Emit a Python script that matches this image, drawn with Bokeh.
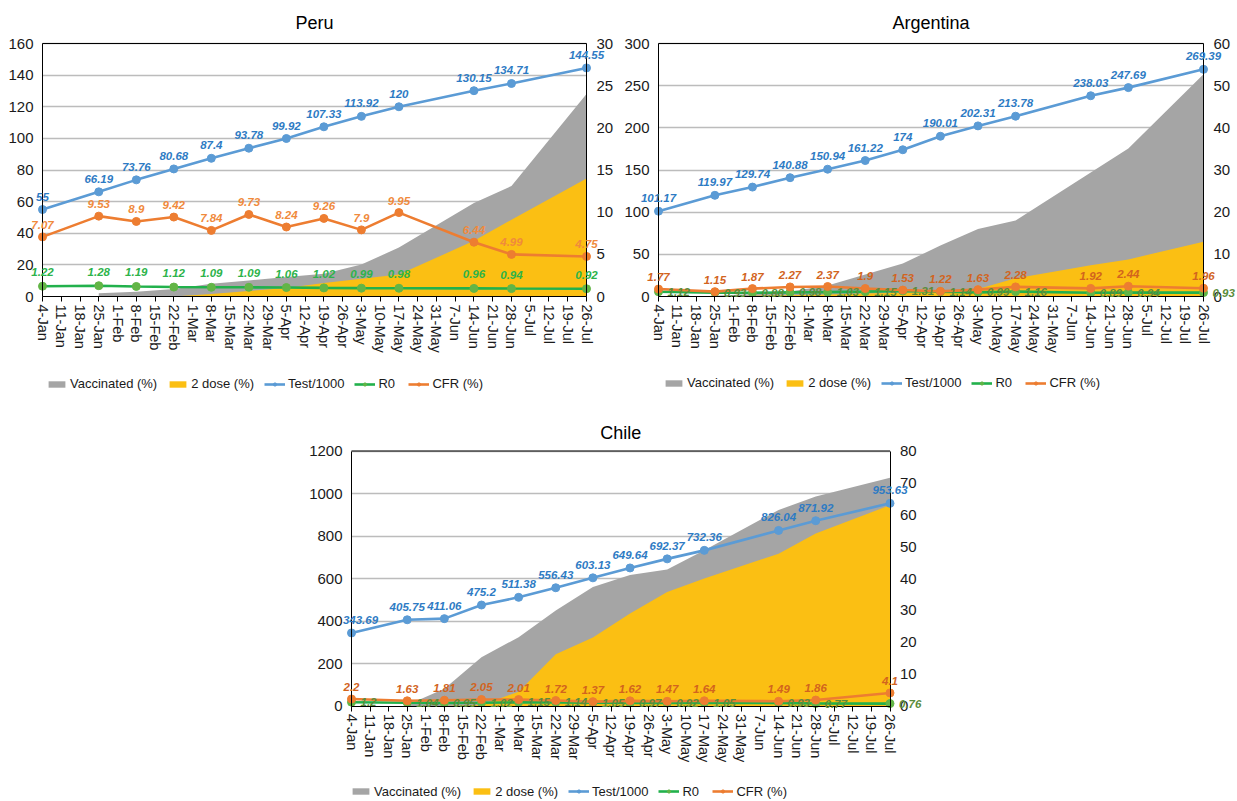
from bokeh.plotting import figure
from bokeh.models import (ColumnDataSource, Range1d, LinearAxis, FixedTicker, LabelSet, Label,
                          Legend, LegendItem, Spacer, Grid)
from bokeh.layouts import row, column
from bokeh.core.properties import value
from bokeh.embed import file_html
from bokeh.resources import INLINE

# ---------------- data ----------------
categories = ["4-Jan", "11-Jan", "18-Jan", "25-Jan", "1-Feb", "8-Feb", "15-Feb", "22-Feb",
              "1-Mar", "8-Mar", "15-Mar", "22-Mar", "29-Mar", "5-Apr", "12-Apr", "19-Apr",
              "26-Apr", "3-May", "10-May", "17-May", "24-May", "31-May", "7-Jun", "14-Jun",
              "21-Jun", "28-Jun", "5-Jul", "12-Jul", "19-Jul", "26-Jul"]
dates = ["4-Jan", "25-Jan", "8-Feb", "22-Feb", "8-Mar", "22-Mar", "5-Apr", "19-Apr",
         "3-May", "17-May", "14-Jun", "28-Jun", "26-Jul"]

peru_test = [55, 66.19, 73.76, 80.68, 87.4, 93.78, 99.92, 107.33, 113.92, 120, 130.15, 134.71, 144.55]
peru_cfr = [7.07, 9.53, 8.9, 9.42, 7.84, 9.73, 8.24, 9.26, 7.9, 9.95, 6.44, 4.99, 4.75]
peru_r0 = [1.22, 1.28, 1.19, 1.12, 1.09, 1.09, 1.06, 1.02, 0.99, 0.98, 0.96, 0.94, 0.92]
peru_vacc = [None, 0.4, 0.55, 0.9, 1.5, 1.9, 2.3, 2.7, 3.8, 5.8, 11.1, 13.1, 24.0]
peru_dose2 = [None, None, None, 0.0, 0.3, 0.65, 1.0, 1.6, 2.1, 2.6, 6.6, 9.1, 14.0]

arg_test = [101.17, 119.97, 129.74, 140.88, 150.94, 161.22, 174, 190.01, 202.31, 213.78, 238.03, 247.69, 269.39]
arg_cfr = [1.77, 1.15, 1.87, 2.27, 2.37, 1.9, 1.53, 1.22, 1.63, 2.28, 1.92, 2.44, 1.96]
arg_r0 = [1.12, 0.93, 0.88, 0.98, 1.03, 1.15, 1.31, 1.14, 0.99, 1.16, 0.89, 0.94, 0.93]
arg_vacc = [None, 0.2, 0.6, 1.2, 2.6, 5.2, 7.8, 12.1, 16.0, 18.0, 29.4, 35.1, 52.7]
arg_dose2 = [None, 0.0, 0.2, 0.3, 0.5, 0.7, 0.9, 1.2, 1.8, 4.3, 7.4, 8.8, 13.0]

chile_test = [343.69, 405.75, 411.06, 475.2, 511.38, 556.43, 603.13, 649.64, 692.37, 732.36, 826.04, 871.92, 953.63]
chile_cfr = [2.2, 1.63, 1.81, 2.05, 2.01, 1.72, 1.37, 1.62, 1.47, 1.64, 1.49, 1.86, 4.1]
chile_r0 = [1.2, 1.04, 0.95, 1.02, 1.15, 1.14, 1.05, 0.97, 0.92, 1.05, 0.93, 0.77, 0.76]
chile_vacc = [None, 0.3, 5.4, 15.3, 21.6, 30.0, 37.3, 41.1, 42.8, 48.9, 61.5, 65.7, 71.6]
chile_dose2 = [None, 0.0, 0.0, 0.3, 4.5, 16.2, 21.5, 29.0, 35.8, 40.0, 47.8, 54.1, 63.0]

FONT = "Liberation Sans"
GRAY = "#a5a5a5"
GOLD = "#fbbf13"
BLUE = "#5b9bd5"
BLUE_T = "#2e7bc4"
ORANGE = "#ed7d31"
GREEN = "#22b14c"
GREEN_M = "#62b546"
TXT = "#1a1a1a"


def fmt(v):
    return "%g" % v


def style_axis(ax, size):
    ax.major_tick_out = 0
    ax.major_tick_in = 0
    ax.minor_tick_out = 0
    ax.minor_tick_in = 0
    ax.major_label_text_font = FONT
    ax.major_label_text_font_size = size
    ax.major_label_text_color = TXT
    ax.axis_line_color = "black"
    ax.axis_line_width = 1


def make_chart(title, test, cfr, r0, vacc, dose2, lmax, lstep, rmax, rstep,
               W, H, L, R, T, B, title_off, leg_xy, r0_side, cfr_lab_color, r0_lab_color,
               first_test_dx=0):
    # box geometry (pixels inside the canvas) -> ranges, so the whole canvas is the frame
    n = len(categories) - 1
    px_x = (R - L) / n
    px_l = (B - T) / lmax
    px_r = (B - T) / rmax
    xr = Range1d(-L / px_x, n + (W - R) / px_x)
    yr = Range1d(-(H - B) / px_l, lmax + T / px_l)
    rr = Range1d(-(H - B) / px_r, rmax + T / px_r)

    p = figure(width=W, height=H, output_backend="svg", toolbar_location=None,
               x_range=xr, y_range=yr, x_axis_location=None, y_axis_location=None,
               min_border=0, min_border_left=0, min_border_right=0,
               min_border_top=0, min_border_bottom=0)
    p.extra_y_ranges = {"right": rr}
    p.center = []
    p.background_fill_color = "white"
    p.border_fill_color = "white"
    p.outline_line_color = None

    # grid lines (behind everything), limited to the plot box
    g = Grid(dimension=1, ticker=FixedTicker(ticks=list(range(lstep, lmax + 1, lstep))),
             grid_line_color="#bcbcbc", grid_line_width=1.5)
    if "cross_bounds" in g.properties():
        g.cross_bounds = (0, n)
        p.add_layout(g)
    else:
        gt = list(range(lstep, lmax + 1, lstep))
        p.segment(x0=[0] * len(gt), y0=gt, x1=[n] * len(gt), y1=gt,
                  line_color="#bcbcbc", line_width=1.5)

    xs = [categories.index(d) for d in dates]

    vx = [x for x, v in zip(xs, vacc) if v is not None]
    vv = [v for v in vacc if v is not None]
    dx = [x for x, v in zip(xs, dose2) if v is not None]
    dv = [v for v in dose2 if v is not None]
    r_vacc = p.varea(x=vx, y1=[0] * len(vv), y2=vv, fill_color=GRAY, y_range_name="right")
    r_dose = p.varea(x=dx, y1=[0] * len(dv), y2=dv, fill_color=GOLD, y_range_name="right")

    src = ColumnDataSource(dict(
        x=xs, test=test, cfr=cfr, r0=r0,
        test_dx=[first_test_dx] + [0] * (len(xs) - 1),
        test_t=[fmt(v) for v in test], cfr_t=[fmt(v) for v in cfr], r0_t=[fmt(v) for v in r0]))

    r_tl = p.line("x", "test", source=src, line_color=BLUE, line_width=2.6)
    r_ts = p.scatter("x", "test", source=src, marker="circle", size=8,
                     fill_color=BLUE, line_color=BLUE)
    r_rl = p.line("x", "r0", source=src, line_color=GREEN, line_width=2.6, y_range_name="right")
    r_rs = p.scatter("x", "r0", source=src, marker="circle", size=8, fill_color=GREEN_M,
                     line_color=GREEN_M, y_range_name="right")
    r_cl = p.line("x", "cfr", source=src, line_color=ORANGE, line_width=2.6, y_range_name="right")
    r_cs = p.scatter("x", "cfr", source=src, marker="circle", size=8, fill_color=ORANGE,
                     line_color=ORANGE, y_range_name="right")

    common = dict(source=src, text_font=value(FONT), text_font_size="11.5px",
                  text_font_style="bold italic")
    p.add_layout(LabelSet(x="x", y="test", text="test_t", text_color=BLUE_T,
                          text_align="center", text_baseline="bottom", y_offset=9,
                          x_offset="test_dx", **common))
    p.add_layout(LabelSet(x="x", y="cfr", text="cfr_t", text_color=cfr_lab_color,
                          text_align="center", text_baseline="bottom", y_offset=8,
                          y_range_name="right", **common))
    if r0_side == "above":
        p.add_layout(LabelSet(x="x", y="r0", text="r0_t", text_color=r0_lab_color,
                              text_align="center", text_baseline="bottom", y_offset=10,
                              y_range_name="right", **common))
    else:
        p.add_layout(LabelSet(x="x", y="r0", text="r0_t", text_color=r0_lab_color,
                              text_align="left", text_baseline="middle", x_offset=9,
                              y_range_name="right", **common))

    # top edge of the plot box
    p.segment(x0=[0], y0=[lmax], x1=[n], y1=[lmax], line_color="black", line_width=1)

    # axes pinned to the plot box
    xa = LinearAxis(fixed_location=0, bounds=(0, n),
                    ticker=FixedTicker(ticks=list(range(len(categories)))))
    style_axis(xa, "14.5px")
    xa.major_label_overrides = {i: c for i, c in enumerate(categories)}
    xa.major_label_orientation = "vertical"
    xa.major_label_standoff = 3
    xa.major_tick_out = 5
    xa.major_tick_line_color = "black"
    p.add_layout(xa, "below")

    ya = LinearAxis(fixed_location=0, bounds=(0, lmax),
                    ticker=FixedTicker(ticks=list(range(0, lmax + 1, lstep))))
    style_axis(ya, "15px")
    ya.major_label_standoff = 9
    p.add_layout(ya, "left")

    ra = LinearAxis(y_range_name="right", fixed_location=n, bounds=(0, rmax),
                    ticker=FixedTicker(ticks=list(range(0, rmax + 1, rstep))))
    style_axis(ra, "15px")
    ra.major_label_standoff = 10
    p.add_layout(ra, "right")

    p.add_layout(Label(x=n / 2, y=lmax, y_offset=title_off, text=title, text_align="center",
                       text_baseline="middle", text_font=FONT, text_font_size="18px",
                       text_color="black"))

    legend = Legend(items=[
        LegendItem(label="Vaccinated (%)", renderers=[r_vacc]),
        LegendItem(label="2 dose (%)", renderers=[r_dose]),
        LegendItem(label="Test/1000", renderers=[r_tl, r_ts]),
        LegendItem(label="R0", renderers=[r_rl, r_rs]),
        LegendItem(label="CFR (%)", renderers=[r_cl, r_cs]),
    ], orientation="horizontal", location=leg_xy, glyph_width=21, glyph_height=8,
        label_standoff=3, spacing=10, padding=0, margin=0, label_height=14,
        border_line_color=None, background_fill_alpha=0,
        label_text_font=FONT, label_text_font_size="13px", label_text_color=TXT)
    p.add_layout(legend, "center")
    return p


peru = make_chart("Peru", peru_test, peru_cfr, peru_r0, peru_vacc, peru_dose2,
                  160, 20, 30, 5, 620, 400, 42, 586, 43, 296, 21, (46, 9),
                  "above", "#f08a3c", "#2db34a")
arg = make_chart("Argentina", arg_test, arg_cfr, arg_r0, arg_vacc, arg_dose2,
                 300, 50, 60, 10, 617, 400, 38, 583, 43, 296, 21, (43, 10),
                 "right", "#d2641e", "#5b8c3a")
chile = make_chart("Chile", chile_test, chile_cfr, chile_r0, chile_vacc, chile_dose2,
                   1200, 200, 80, 10, 630, 401, 51, 589.5, 50.5, 305.5, 18.5, (50, 2.5),
                   "right", "#d2641e", "#5b8c3a", first_test_dx=9)

layout = column(row(peru, arg), row(Spacer(width=300, height=401), chile))

open("out.html", "w").write(file_html(layout, INLINE))
